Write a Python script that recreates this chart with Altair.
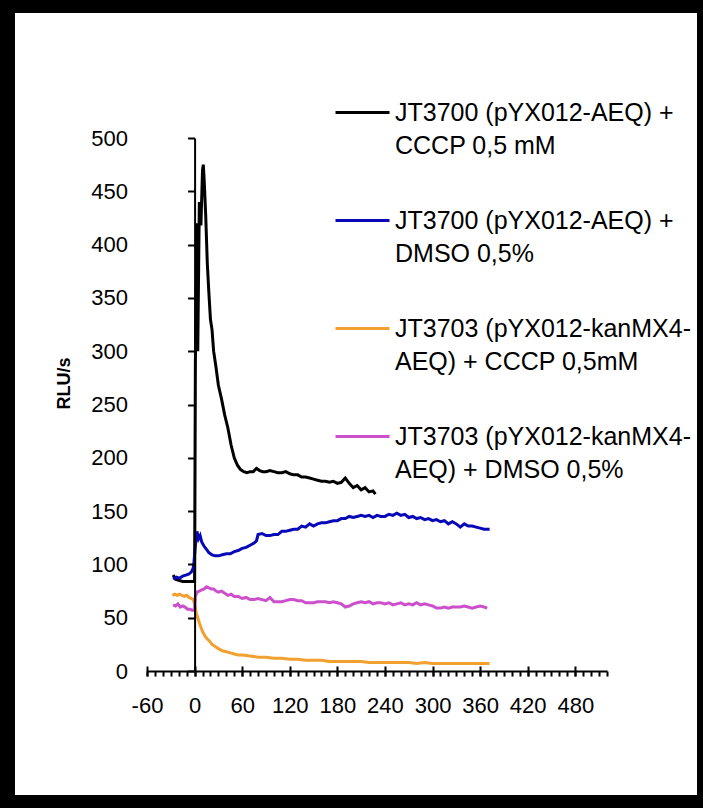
import altair as alt
import pandas as pd

series_names = [
    "JT3700 (pYX012-AEQ) +|CCCP 0,5 mM",
    "JT3700 (pYX012-AEQ) +|DMSO 0,5%",
    "JT3703 (pYX012-kanMX4-|AEQ) + CCCP 0,5mM",
    "JT3703 (pYX012-kanMX4-|AEQ) + DMSO 0,5%",
]
series_colors = ["#000000", "#0808b8", "#f2a030", "#cc4fcc"]
series_widths = [3, 3, 3, 1.5]

# JT3700 + CCCP (black)
black_t = [-27, -24, -20, -15, -10, -5, -1,
           0, 1, 3, 4, 6, 8, 10, 11, 12, 14, 16, 18, 20, 22, 24, 27, 30] + \
          list(range(34, 91, 4)) + list(range(95, 226, 5)) + [228]
black_v = [90, 86, 85, 84, 84, 84, 84,
           84, 290, 420, 300, 440, 418, 470, 475, 462, 428, 383, 355, 330, 320, 300, 285, 268,
           255, 240, 228, 212, 200, 193, 189, 187, 186, 187, 187, 190, 188, 187, 187,
           188, 187, 186, 186, 187, 185, 184, 184, 182, 182, 181, 180, 179, 178, 178, 177,
           178, 176, 177, 181, 176, 172, 174, 170, 172, 168, 169,
           166]

# JT3700 + DMSO (blue)
blue_t = [-27, -23, -19, -15, -11, -7, -4, -2, -1,
          1, 3, 5, 7, 9, 12, 15, 18, 22, 26, 30] + list(range(35, 76, 5)) + [78, 80] + \
         list(range(85, 366, 5)) + [372]
blue_v = [86, 88, 87, 89, 90, 91, 93, 96, 100,
          118, 131, 124, 127, 121, 117, 114, 111, 109, 108, 108,
          109, 110, 110, 112, 113, 115, 116, 118, 120,
          122, 128,
          129, 127, 127, 128, 128, 131, 131, 132, 133, 133, 136, 135, 138, 136, 138, 139,
          139, 140, 141, 141, 143, 143, 145, 144, 145, 146, 145, 146, 144, 146, 145, 145,
          147, 146, 148, 146, 147, 144, 145, 143, 144, 142, 143, 141, 142, 140, 141, 138,
          140, 138, 135, 138, 136, 136, 135, 134, 133,
          133]

# JT3703 + CCCP (orange)
orange_t = [-28, -25, -22, -19, -16, -13, -10, -7, -4, -2,
            0, 2, 4, 6, 8, 10, 13, 16, 19, 22, 26, 30, 35, 40, 45, 50, 55, 60] + \
           list(range(70, 361, 10)) + [372]
orange_v = [71, 72, 71, 72, 71, 70, 71, 69, 68, 67,
            63, 55, 50, 45, 41, 37, 33, 30, 28, 25, 23, 21, 19, 18, 17, 16, 15, 15,
            14, 13, 13, 12, 12, 11, 11, 10, 10, 10, 9, 9, 9, 9, 9, 8, 8, 8, 8, 8, 8, 7,
            8, 7, 7, 7, 7, 7, 7, 7, 7, 7,
            7]

# JT3703 + DMSO (magenta)
pink_t = [-27, -24, -21, -18, -15, -12, -9, -6, -3, 0,
          1, 3, 6, 9, 12, 15, 18, 21, 24, 27, 30, 34, 38, 42, 46, 50] + \
         list(range(55, 366, 5)) + [369]
pink_v = [62, 61, 63, 60, 61, 60, 58, 58, 57, 57,
          70, 74, 75, 76, 77, 79, 78, 77, 77, 75, 74, 75, 73, 71, 72, 70,
          70, 68, 69, 67, 67, 68, 67, 66, 69, 65, 65, 65, 66, 67, 67, 66, 66, 64, 64, 64,
          65, 65, 65, 64, 65, 64, 63, 60, 61, 63, 64, 65, 64, 65, 63, 64, 64, 63, 64, 62,
          63, 64, 62, 63, 62, 64, 62, 63, 62, 61, 59, 59, 60, 59, 60, 60, 60, 61, 60, 59,
          60, 61, 60,
          59]

x_major = list(range(-60, 481, 60))
x_minor = list(range(-60, 521, 10))
y_ticks = list(range(0, 501, 50))

rows = []
for name, ts, vs in zip(series_names, [black_t, blue_t, orange_t, pink_t],
                        [black_v, blue_v, orange_v, pink_v]):
    n = min(len(ts), len(vs))
    for i in range(n):
        rows.append({"t": ts[i], "v": vs[i], "series": name, "order": i})
df = pd.DataFrame(rows)

FONT = "Liberation Sans"
W, H = 460, 533
x_scale = alt.Scale(domain=[-60, 520], nice=False, zero=False)
y_scale = alt.Scale(domain=[0, 500], nice=False, zero=False)
y0_offset = -60 * W / 580.0

lines = alt.Chart(df).mark_line(strokeJoin="miter").encode(
    x=alt.X("t:Q", scale=x_scale,
            axis=alt.Axis(orient="bottom", values=x_minor, labels=False, title=None,
                          ticks=True, tickSize=5, tickWidth=2, tickColor="black",
                          domainColor="black", domainWidth=2, grid=False, zindex=1)),
    y=alt.Y("v:Q", scale=y_scale,
            axis=alt.Axis(values=y_ticks, offset=y0_offset, tickSize=7, tickWidth=2,
                          tickColor="black", domainColor="black", domainWidth=2,
                          labelPadding=60, labelFont=FONT, labelFontSize=22,
                          labelColor="black", labelAlign="right", labelBaseline="middle",
                          labelOverlap=False, labelFlush=False, grid=False,
                          title="RLU/s", titleFont=FONT, titleFontSize=18,
                          titleFontWeight="bold", titleColor="black",
                          titleX=64 - (147 - y0_offset), titleY=245,
                          titleAngle=270, titleAlign="center", titleBaseline="middle",
                          zindex=1)),
    color=alt.Color("series:N",
                    scale=alt.Scale(domain=series_names, range=series_colors),
                    legend=alt.Legend(orient="none", legendX=187, legendY=-54, title=None,
                                      labelExpr="split(datum.label, '|')",
                                      labelFont=FONT, labelFontSize=25, labelColor="black",
                                      labelLimit=500, labelOffset=4, labelBaseline="middle",
                                      symbolType="stroke", symbolSize=2916,
                                      rowPadding=33, padding=0, zindex=1)),
    strokeWidth=alt.StrokeWidth("series:N",
                                scale=alt.Scale(domain=series_names, range=series_widths)),
    order="order:Q",
)

major = alt.Chart(df).mark_point(opacity=0).encode(
    x=alt.X("t:Q", scale=x_scale,
            axis=alt.Axis(orient="bottom", values=x_major, offset=-5, tickSize=10,
                          tickWidth=2, tickColor="black", domain=False, title=None,
                          labelExpr="'' + datum.value",
                          labelFont=FONT, labelFontSize=22, labelColor="black",
                          labelPadding=19, labelBaseline="top", labelFlush=False,
                          labelOverlap=False, grid=False, zindex=2)),
)

border = alt.Chart(alt.Data(values=[{"k": 1}])).mark_rect(
    fill="white", fillOpacity=0, stroke="black", strokeWidth=30
).encode(
    x=alt.value(-147), x2=alt.value(565), y=alt.value(-140), y2=alt.value(672)
)

chart = alt.layer(lines, major, border).resolve_axis(x="independent").properties(
    width=W, height=H,
    autosize=alt.AutoSizeParams(type="none"),
    padding={"left": 147, "top": 138, "right": 96, "bottom": 137},
    background="white",
).configure(
    style={"guide-label": {"lineHeight": 33}}
).configure_view(strokeWidth=0)

chart.save("out.html", embed_options={"renderer": "svg", "actions": False})
